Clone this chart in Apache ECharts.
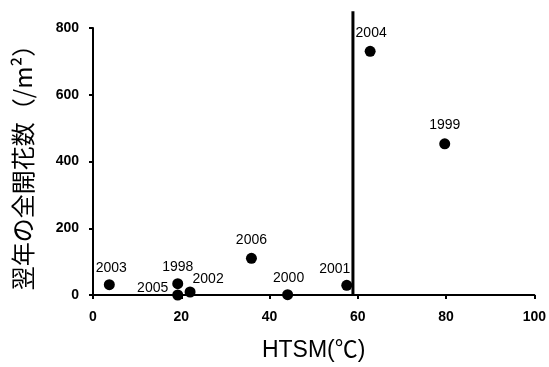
<!DOCTYPE html>
<html>
<head>
<meta charset="utf-8">
<script src="https://cdn.jsdelivr.net/npm/echarts@6/dist/echarts.min.js"></script>
<style>
  html, body { margin: 0; padding: 0; background: #fff; }
  #chart { width: 549px; height: 367px; }
</style>
</head>
<body>
<div id="chart"></div>
<script>
// 年ごとのデータ
const years = ['2003', '1998', '2005', '2002', '2006', '2000', '2001', '2004', '1999'];
const htsm = [3.7, 19.2, 19.2, 22.0, 35.9, 44.1, 57.5, 62.8, 79.7];
const flowers = [31, 34, 0, 9, 110, 1, 29, 730, 453];
// 閾値の縦線
const thresholdX = 58.9;
const thresholdY = [0, 850];
const xTicks = [0, 20, 40, 60, 80, 100];
const yTicks = [0, 200, 400, 600, 800];

// ラベル位置 (見た目の調整のみ)
const labelPlace = {
  '2003': {position: 'top', offset: [2, 0]},
  '1998': {position: 'top', offset: [0, 0]},
  '2005': {position: 'left', offset: [0, -7]},
  '2002': {position: 'top', offset: [18, 4]},
  '2006': {position: 'top', offset: [0, -2]},
  '2000': {position: 'top', offset: [1, 0]},
  '2001': {position: 'top', offset: [-12, 0]},
  '2004': {position: 'top', offset: [1, -2]},
  '1999': {position: 'top', offset: [0, -2]}
};

const myChart = echarts.init(document.getElementById('chart'));

let points = [];
for (let i = 0; i < years.length; i++) {
  const lp = labelPlace[years[i]];
  points.push({
    value: [htsm[i], flowers[i]],
    name: years[i],
    label: {position: lp.position, offset: lp.offset}
  });
}

const axisFont = {color: '#000', fontSize: 14, fontWeight: 'bold', fontFamily: 'Liberation Sans, Arial, sans-serif'};

const option = {
  backgroundColor: '#fff',
  animation: false,
  grid: {left: 93, right: 11, top: 28, bottom: 70},
  xAxis: {
    type: 'value',
    min: xTicks[0],
    max: xTicks[xTicks.length - 1],
    interval: 20,
    name: 'HTSM(℃)',
    nameLocation: 'middle',
    nameGap: 44,
    nameTextStyle: {color: '#000', fontSize: 23, fontFamily: 'Liberation Sans, Noto Sans CJK JP, sans-serif'},
    splitLine: {show: false},
    axisLine: {onZero: false, lineStyle: {color: '#000', width: 2}},
    axisTick: {show: true, inside: false, length: 4, lineStyle: {color: '#000', width: 2}},
    axisLabel: Object.assign({margin: 15}, axisFont)
  },
  yAxis: {
    type: 'value',
    min: yTicks[0],
    max: yTicks[yTicks.length - 1],
    interval: 200,
    name: '翌年の全開花数（/m²）',
    nameLocation: 'middle',
    nameGap: 58,
    nameTextStyle: {color: '#000', fontSize: 24, fontFamily: 'Noto Sans CJK JP, sans-serif'},
    splitLine: {show: false},
    axisLine: {show: true, onZero: false, lineStyle: {color: '#000', width: 2}},
    axisTick: {show: true, inside: false, length: 4, lineStyle: {color: '#000', width: 2}},
    axisLabel: Object.assign({margin: 14}, axisFont)
  },
  series: [
    {
      type: 'line',
      data: thresholdY.map(y => [thresholdX, y]),
      clip: false,
      symbol: 'none',
      silent: true,
      lineStyle: {color: '#000', width: 3}
    },
    {
      type: 'scatter',
      data: points,
      symbolSize: 11,
      clip: false,
      itemStyle: {color: '#000', opacity: 1},
      label: {
        show: true,
        formatter: p => p.name,
        color: '#000',
        fontSize: 14,
        fontFamily: 'Liberation Sans, Arial, sans-serif',
        distance: 4
      }
    }
  ]
};

myChart.setOption(option);
</script>
</body>
</html>
